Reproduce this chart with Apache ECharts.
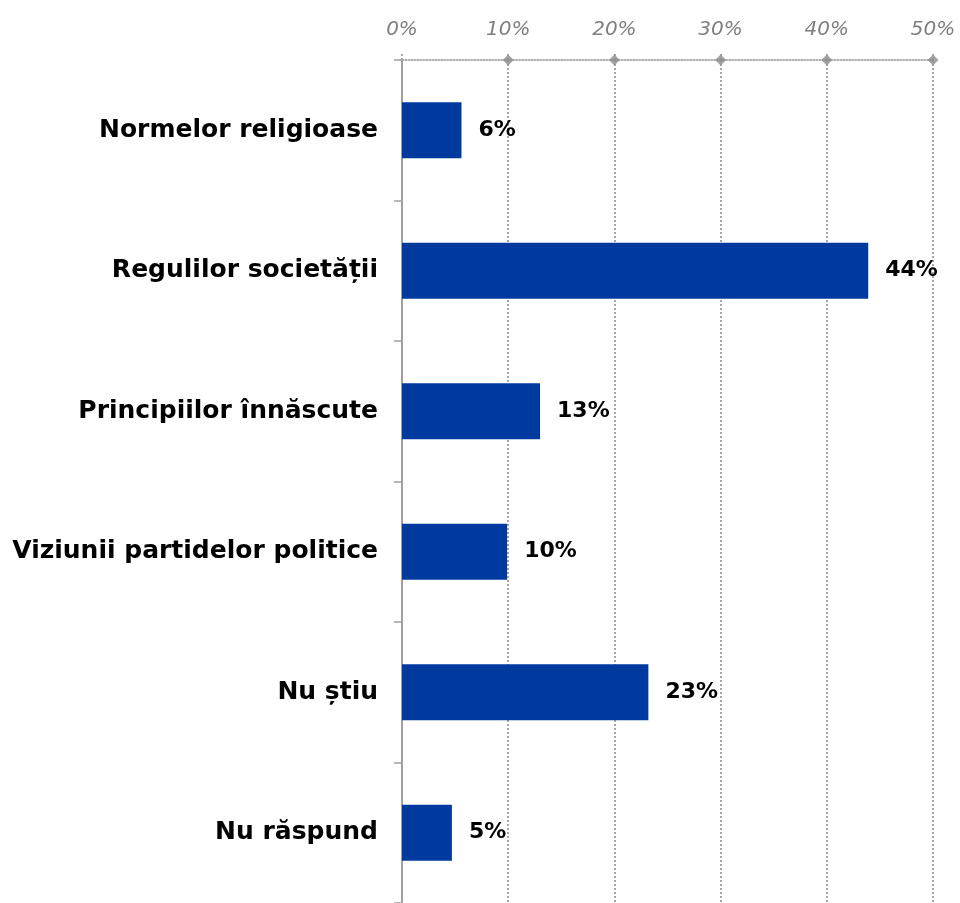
<!DOCTYPE html>
<html><head><meta charset="utf-8">
<script src="https://cdn.jsdelivr.net/npm/echarts@6/dist/echarts.min.js"></script>
<style>html,body{margin:0;padding:0;background:#fff}#c{width:960px;height:903px}</style>
</head><body><div id="c"></div>
<script>
const categories = ["Normelor religioase","Regulilor societății","Principiilor înnăscute","Viziunii partidelor politice","Nu știu","Nu răspund"];
const values = [5.6, 43.9, 13.0, 9.9, 23.2, 4.7];
const tickValues = [0, 10, 20, 30, 40, 50];

const chart = echarts.init(document.getElementById('c'), null, {renderer:'canvas'});
chart.setOption({
  animation:false,
  backgroundColor:'#fff',
  grid:{left:402, right:27, top:60, height:849, containLabel:false},
  xAxis:[{type:'value', position:'top', min:0, max:50, interval:10,
    axisLine:{show:true, onZero:false, lineStyle:{color:'#999', type:'dotted', width:1.5}},
    axisTick:{show:true, length:8, inside:false, lineStyle:{color:'#aaa', type:'dotted', width:2}},
    axisLabel:{formatter:v=>v+'%', color:'#7f7f7f', fontStyle:'italic', fontSize:20, fontFamily:'DejaVu Sans', margin:20},
    splitLine:{show:true, lineStyle:{color:'#a6a6a6', type:'dotted', width:2}}
  }],
  yAxis:[{type:'category', data:categories, inverse:true,
    axisLine:{show:true, onZero:false, lineStyle:{color:'#a0a0a0', width:2}},
    axisTick:{show:true, length:8, lineStyle:{color:'#a0a0a0', width:1.5}},
    axisLabel:{color:'#000', fontWeight:'bold', fontSize:25, fontFamily:'DejaVu Sans', margin:24},
    splitLine:{show:false}
  },{type:'value', min:0, max:1, show:false}],
  series:[{type:'bar', data:values, barWidth:56, itemStyle:{color:'#003a9e'},
    label:{show:true, position:'right', distance:17, formatter:p=>Math.round(p.value)+'%', color:'#000', fontWeight:'bold', fontSize:22, fontFamily:'DejaVu Sans'}},
   {type:'scatter', yAxisIndex:1, symbol:'diamond', symbolSize:11, itemStyle:{color:'#8c8c8c'}, silent:true, z:5,
    data: tickValues.filter(v=>v>0).map(v=>[v,1])}]
});
</script></body></html>
